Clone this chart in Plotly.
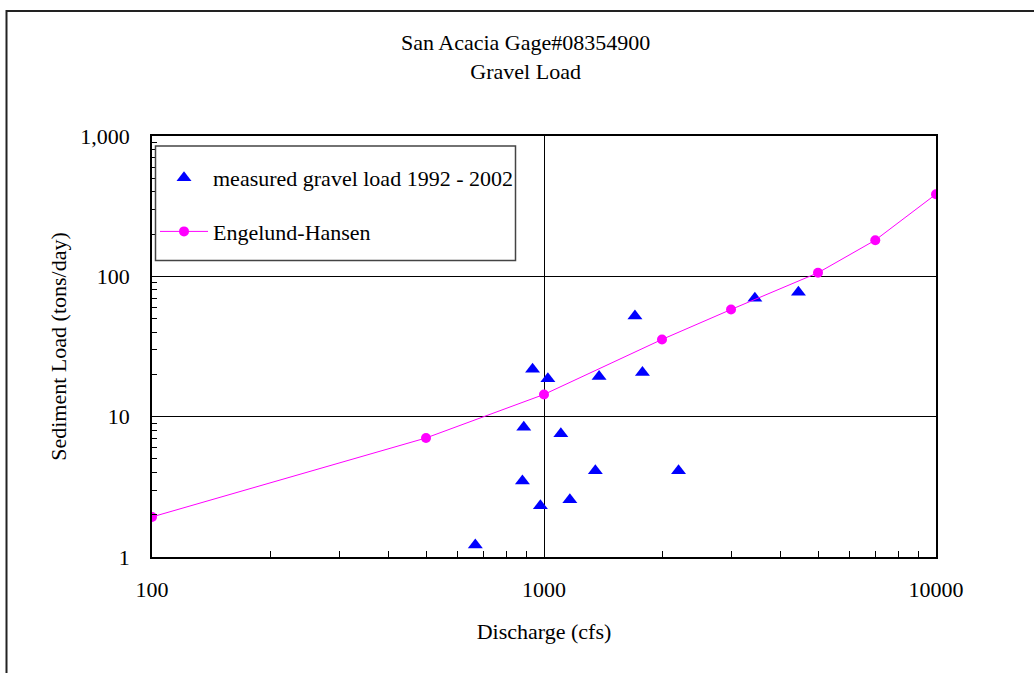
import plotly.graph_objects as go

# Measured gravel load 1992 - 2002
meas_q = [1706, 935, 1023, 1382, 1783, 888, 1104, 1352, 2204, 881, 1164, 979, 668, 3451, 4457]
meas_load = [52.2, 21.8, 18.6, 19.3, 20.6, 8.4, 7.57, 4.12, 4.12, 3.48, 2.56, 2.32, 1.22, 69.8, 77.1]

# Engelund-Hansen computed curve
eh_q = [100, 500, 1000, 2000, 3000, 5000, 7000, 10000]
eh_load = [1.93, 7.05, 14.4, 35.5, 58, 106, 181, 385]

x_tickvals = [100, 1000, 10000]
x_ticktext = ["100", "1000", "10000"]
y_tickvals = [1, 10, 100, 1000]
y_ticktext = ["1", "10", "100", "1,000"]

FONT = "Times New Roman, Liberation Serif, DejaVu Serif, serif"
FS = 22
W, H = 1034, 673
L, R, T, B = 152, 936, 136, 557

def px(xpix):
    return (xpix - L) / (R - L)

def py(ypix):
    return (B - ypix) / (B - T)

x_minor = [m * 10 ** e for e in (2, 3) for m in range(2, 10)]
y_minor = [m * 10 ** e for e in (0, 1, 2) for m in range(2, 10)]

fig = go.Figure()
fig.add_trace(go.Scatter(
    x=meas_q, y=meas_load, mode="markers", name="measured gravel load 1992 - 2002",
    marker=dict(symbol="triangle-up", size=13, color="#0000FF"),
    legendgroup="a",
))
fig.add_trace(go.Scatter(
    x=eh_q, y=eh_load, mode="lines+markers", name="Engelund-Hansen",
    marker=dict(symbol="circle", size=10, color="#FF00FF"),
    line=dict(color="#FF00FF", width=1),
    legendgroup="b",
))

fig.update_layout(
    width=W, height=H,
    margin=dict(l=L, r=W - R, t=T, b=H - B, pad=0),
    paper_bgcolor="white", plot_bgcolor="white",
    font=dict(family=FONT, size=FS, color="black"),
    showlegend=True,
    legend=dict(
        x=px(155), y=py(157), xanchor="left", yanchor="top",
        bgcolor="rgba(0,0,0,0)", borderwidth=0,
        font=dict(family=FONT, size=FS, color="black"),
        tracegroupgap=22, traceorder="grouped", itemwidth=48,
    ),
    annotations=[dict(
        text="San Acacia Gage#08354900<br>Gravel Load",
        xref="paper", yref="paper",
        x=px(525), y=py(57.5),
        xanchor="center", yanchor="middle", showarrow=False,
        font=dict(family=FONT, size=FS, color="black"),
    )],
    shapes=[
        dict(
            type="rect", xref="paper", yref="paper",
            x0=px(6.5), x1=1.3, y0=-0.6, y1=py(11),
            line=dict(color="#222", width=2), fillcolor="rgba(0,0,0,0)", layer="below",
        ),
        dict(
            type="rect", xref="paper", yref="paper",
            x0=px(155.5), x1=px(515.5), y0=py(260.5), y1=py(146),
            line=dict(color="#444", width=1.5), fillcolor="white", layer="above",
        ),
    ],
)

fig.update_xaxes(
    type="log", range=[2, 4],
    tickvals=x_tickvals, ticktext=x_ticktext,
    showline=True, linecolor="black", linewidth=1.5, mirror=True,
    showgrid=True, gridcolor="black", gridwidth=1,
    ticks="", ticklabelstandoff=12,
    minor=dict(tickvals=x_minor, ticks="inside", ticklen=6, tickcolor="black", showgrid=False),
    title=dict(text="Discharge (cfs)", standoff=22, font=dict(family=FONT, size=FS)),
    zeroline=False,
)
fig.update_yaxes(
    type="log", range=[0, 3],
    tickvals=y_tickvals, ticktext=y_ticktext,
    showline=True, linecolor="black", linewidth=1.5, mirror=True,
    showgrid=True, gridcolor="black", gridwidth=1,
    ticks="", ticklabelstandoff=16,
    minor=dict(tickvals=y_minor, ticks="inside", ticklen=5, tickcolor="black", showgrid=False),
    title=dict(text="Sediment Load (tons/day)", standoff=8, font=dict(family=FONT, size=FS)),
    zeroline=False,
)

fig.write_html("out.html")
